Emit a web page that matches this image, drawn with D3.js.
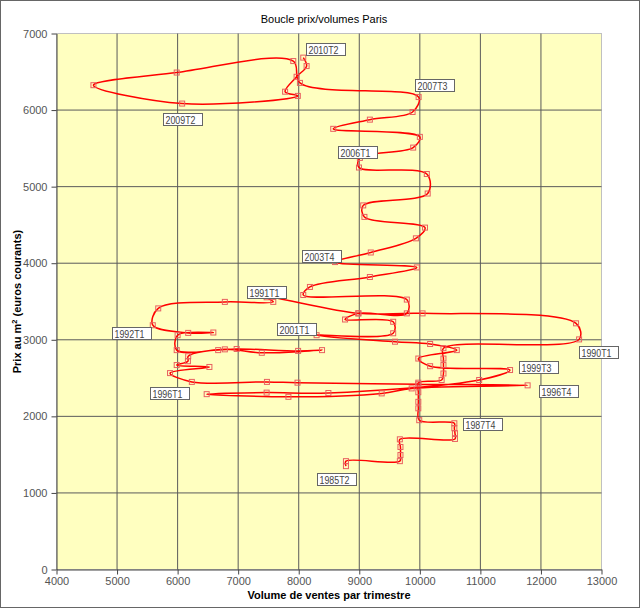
<!DOCTYPE html>
<html>
<head>
  <meta http-equiv="Content-Type" content="text/html;charset=utf-8" />
  <style type="text/css">
    body { margin: 0; background: #fff; }
    svg text { font-family: "Liberation Sans", Arial, sans-serif; }
  </style>
</head>
<body>
  <div id="svgContainer"></div>
  <script src="https://cdn.jsdelivr.net/npm/d3@7"></script>
  <script type="text/javascript">
    // volume de ventes par trimestre (x) et prix au m2 (y), dans l'ordre du temps
    var volumes = [8780, 8780, 9670, 9680, 9680, 9670, 10580, 10580, 10570, 10570,
      9990, 9975, 9975, 9975, 9975, 10360, 10390, 10390, 10390, 10390,
      12630, 12580, 10045, 8985, 7470, 7580, 6780, 5680, 5590, 6175,
      6590, 6000, 5985, 6670, 6975, 7990, 8385, 7390, 6780, 6175,
      6170, 5985, 6525, 5875, 6235, 7475, 7980, 9975, 11780, 9865,
      9370, 7830, 6480, 7470, 8490, 10980, 11490, 10170, 9975, 10610,
      10170, 9590, 8295, 9560, 9560, 8765, 8985, 9785, 9785, 8075,
      8185, 9175, 9950, 8600, 9190, 9935, 10085, 9085, 9065, 10130,
      10115, 8995, 9010, 9890, 10000, 8570, 9175, 9880, 9980, 8020,
      7910, 5985, 4610, 6075, 7985, 7775, 7965, 8130, 8075];
    var prices = [1350, 1415, 1415, 1495, 1600, 1700, 1705, 1780, 1845, 1910,
      1950, 2105, 2190, 2315, 2440, 2475, 2560, 2670, 2755, 2890,
      3005, 3215, 3345, 3345, 3555, 3495, 3495, 3410, 3190, 3090,
      3095, 3060, 2865, 2865, 2880, 2855, 2865, 2830, 2875, 2785,
      2720, 2670, 2645, 2565, 2450, 2450, 2440, 2420, 2405, 2365,
      2300, 2255, 2290, 2310, 2305, 2475, 2605, 2655, 2755, 2865,
      2945, 2975, 3060, 3085, 3235, 3265, 3345, 3345, 3525, 3585,
      3690, 3820, 3945, 4015, 4140, 4325, 4465, 4605, 4755, 4910,
      5165, 5250, 5375, 5510, 5650, 5755, 5875, 5975, 6170, 6355,
      6640, 6490, 6325, 6085, 6185, 6240, 6435, 6575, 6685];

    var labelNames = ["1985T2", "1987T4", "1990T1", "1991T1", "1992T1", "1996T1", "1996T4",
      "1999T3", "2001T1", "2003T4", "2006T1", "2007T3", "2009T2", "2010T2"];
    var labelPoints = [0, 9, 20, 24, 28, 44, 48, 56, 62, 73, 82, 88, 93, 98];

    var xTicks = [4000, 5000, 6000, 7000, 8000, 9000, 10000, 11000, 12000, 13000];
    var yTicks = [0, 1000, 2000, 3000, 4000, 5000, 6000, 7000];

    var w = 640, h = 608;
    var pLeft = 56.5, pRight = 601.5, pTop = 33.5, pBottom = 569.5;

    var svg = d3.select("#svgContainer")
      .append("svg")
      .attr("width", w)
      .attr("height", h);

    svg.append("rect")
      .attr("x", 0.5).attr("y", 0.5)
      .attr("width", w - 1).attr("height", h - 1)
      .attr("fill", "#fff")
      .attr("stroke", "#666");

    var xScale = d3.scaleLinear().domain([4000, 13000]).range([pLeft, pRight]);
    var yScale = d3.scaleLinear().domain([0, 7000]).range([pBottom, pTop]);

    // fond de la zone de tracé
    svg.append("rect")
      .attr("x", pLeft).attr("y", pTop)
      .attr("width", pRight - pLeft).attr("height", pBottom - pTop)
      .attr("fill", "#ffffc0")
      .attr("stroke", "#c0c0c0");

    // quadrillage
    svg.selectAll(".vgrid")
      .data(xTicks.slice(1, -1))
      .enter().append("line")
      .attr("x1", d => xScale(d)).attr("x2", d => xScale(d))
      .attr("y1", pTop).attr("y2", pBottom)
      .attr("stroke", "#5a5a5a").attr("stroke-width", 1);
    svg.selectAll(".hgrid")
      .data(yTicks.slice(1, -1))
      .enter().append("line")
      .attr("x1", pLeft).attr("x2", pRight)
      .attr("y1", d => yScale(d)).attr("y2", d => yScale(d))
      .attr("stroke", "#5a5a5a").attr("stroke-width", 1);

    var xAxis = d3.axisBottom(xScale).tickValues(xTicks).tickFormat(d3.format("d"))
      .tickSize(5).tickPadding(3).tickSizeOuter(0);
    var yAxis = d3.axisLeft(yScale).tickValues(yTicks).tickFormat(d3.format("d"))
      .tickSize(5).tickPadding(4).tickSizeOuter(0);

    var gx = svg.append("g")
      .attr("transform", "translate(0," + pBottom + ")")
      .call(xAxis);
    var gy = svg.append("g")
      .attr("transform", "translate(" + pLeft + ",0)")
      .call(yAxis);

    [gx, gy].forEach(function (g) {
      g.select(".domain").attr("stroke", "#444");
      g.selectAll(".tick line").attr("stroke", "#444");
      g.selectAll(".tick text")
        .attr("fill", "#555")
        .style("font-size", "11px")
        .style("font-family", "'Liberation Sans', Arial, sans-serif");
    });

    // courbe lissée
    var pts = volumes.map((v, i) => [v, prices[i]]);
    var line = d3.line()
      .x(d => xScale(d[0]))
      .y(d => yScale(d[1]))
      .curve(d3.curveCatmullRom.alpha(0.5));

    svg.append("path")
      .attr("d", line(pts))
      .attr("fill", "none")
      .attr("stroke", "#f00")
      .attr("stroke-width", 1.5);

    svg.selectAll(".mark")
      .data(pts)
      .enter().append("rect")
      .attr("x", d => xScale(d[0]) - 2.5)
      .attr("y", d => yScale(d[1]) - 2.5)
      .attr("width", 5).attr("height", 5)
      .attr("fill", "none")
      .attr("stroke", "#e86060")
      .attr("stroke-width", 1);

    // étiquettes (décalage de la boîte par rapport au point)
    var labelShift = [[-29, 7], [9, -5], [0, 7], [-20, -11], [-41, 2], [-42, 5], [11, 0],
      [9, -9], [-40, -12], [-33, -12], [-22, -12], [-4, -18], [-19, 9], [3, -15]];

    labelNames.forEach(function (name, k) {
      var p = pts[labelPoints[k]];
      var bx = Math.round(xScale(p[0]) + labelShift[k][0]) + 0.5;
      var by = Math.round(yScale(p[1]) + labelShift[k][1]) + 0.5;
      var g = svg.append("g").attr("transform", "translate(" + bx + "," + by + ")");
      g.append("rect")
        .attr("width", 39).attr("height", 12)
        .attr("fill", "#fff")
        .attr("stroke", "#666");
      g.append("text")
        .attr("x", 2).attr("y", 10)
        .attr("textLength", 30)
        .attr("lengthAdjust", "spacingAndGlyphs")
        .style("font-size", "10.5px")
        .attr("fill", "#444")
        .text(name);
    });

    // titres
    svg.append("text")
      .attr("x", 324).attr("y", 23)
      .attr("text-anchor", "middle")
      .style("font-size", "11px")
      .text("Boucle prix/volumes Paris");

    svg.append("text")
      .attr("x", 329).attr("y", 599)
      .attr("text-anchor", "middle")
      .style("font-size", "11px")
      .style("font-weight", "bold")
      .text("Volume de ventes par trimestre");

    var yt = svg.append("text")
      .attr("transform", "translate(21," + ((pTop + pBottom) / 2) + ") rotate(-90)")
      .attr("text-anchor", "middle")
      .style("font-size", "11px")
      .style("font-weight", "bold");
    yt.append("tspan").text("Prix au m");
    yt.append("tspan").attr("dy", -4).style("font-size", "7.5px").text("2");
    yt.append("tspan").attr("dy", 4).text(" (euros courants)");
  </script>
</body>
</html>
